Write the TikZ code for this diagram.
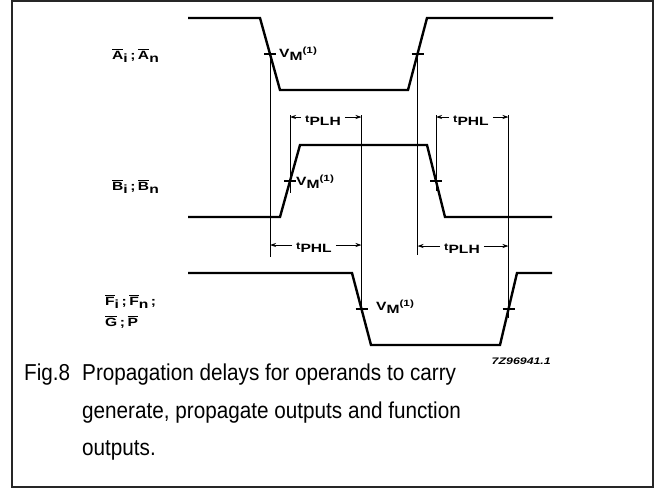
\documentclass[tikz,border=0pt]{standalone}
\usepackage{fontspec}
\setmainfont{Liberation Sans}
\newfontfamily\lblfont{Liberation Sans}[FakeStretch=1.3]
\newfontfamily\capfont{Liberation Sans}[FakeStretch=0.9]
\usetikzlibrary{arrows.meta}
\newcommand\ovl[1]{\ensuremath{\overline{\mbox{#1}}}}
\newcommand\lsub[1]{\raisebox{-3.2pt}{#1}}
\newcommand\sep{\hspace{2.5pt};\hspace{2.5pt}}
\newcommand\tdl[1]{{\fontsize{10}{11}\selectfont t}\lsub{#1}}
\newcommand\vmlab{V\lsub{M}\raisebox{3.8pt}{\fontsize{9}{10}\selectfont(1)}}
\begin{document}
\begin{tikzpicture}[x=1pt,y=-1pt,
  wave/.style={line width=2.4pt, line join=miter},
  refl/.style={line width=0.9pt},
  tickl/.style={line width=1.2pt},
  lab/.style={font=\lblfont\bfseries\fontsize{12}{13}\selectfont, inner sep=0pt},
  dimlab/.style={lab, inner xsep=4pt},
  dimar/.style={line width=0.9pt, -{Stealth[length=6pt,width=4pt]}},
  capt/.style={font=\capfont\fontsize{23}{28}\selectfont, anchor=base west, inner sep=0pt}]
\useasboundingbox (0,0) rectangle (657,488);
\draw[line width=2pt, draw=black!85] (12,1) rectangle (653,487);

% waveforms
\draw[wave] (188,18) -- (260,18) -- (280,90) -- (408,90) -- (427,18) -- (553,18);
\draw[wave] (188,217) -- (280,217) -- (300,145) -- (427,145) -- (445,217) -- (552,217);
\draw[wave] (188,273) -- (352,273) -- (371,345) -- (500,345) -- (517,273) -- (552,273);

% switching points
\coordinate (a1) at (270,54);
\coordinate (a2) at (417.5,54);
\coordinate (b1) at (290,181);
\coordinate (b2) at (436,181);
\coordinate (f1) at (361.5,309);
\coordinate (f2) at (508.5,309);
\foreach \p in {a1,a2,b1,b2,f1,f2}
  \draw[tickl] ([xshift=-6pt]\p) -- ([xshift=6pt]\p);

% reference lines ends
\coordinate (a1e) at (270,257);
\coordinate (a2e) at (417.5,255);
\coordinate (b1t) at (290,115);
\coordinate (b1e) at (290,193);
\coordinate (b2t) at (436,115);
\coordinate (b2e) at (436,191);
\coordinate (f1t) at (361.5,115);
\coordinate (f1e) at (361.5,313);
\coordinate (f2t) at (508.5,115);
\coordinate (f2e) at (508.5,318);
\draw[refl] (a1) -- (a1e);
\draw[refl] (a2) -- (a2e);
\draw[refl] (b1t) -- (b1e);
\draw[refl] (b2t) -- (b2e);
\draw[refl] (f1t) -- (f1e);
\draw[refl] (f2t) -- (f2e);

% arrow end points on reference lines
\coordinate (d1l) at (290,117);
\coordinate (d1r) at (361.5,117);
\coordinate (d2l) at (436,117);
\coordinate (d2r) at (508.5,117);
\coordinate (d3l) at (270,245);
\coordinate (d3r) at (361.5,245);
\coordinate (d4l) at (417.5,246);
\coordinate (d4r) at (508.5,246);

\node[dimlab] (tplha) at (323,121) {\tdl{PLH}};
\node[dimlab] (tphla) at (471,121) {\tdl{PHL}};
\node[dimlab] (tphlb) at (314,248) {\tdl{PHL}};
\node[dimlab] (tplhb) at (462,249) {\tdl{PLH}};
\draw[dimar] (tplha.west |- d1l) -- (d1l);
\draw[dimar] (tplha.east |- d1r) -- (d1r);
\draw[dimar] (tphla.west |- d2l) -- (d2l);
\draw[dimar] (tphla.east |- d2r) -- (d2r);
\draw[dimar] (tphlb.west |- d3l) -- (d3l);
\draw[dimar] (tphlb.east |- d3r) -- (d3r);
\draw[dimar] (tplhb.west |- d4l) -- (d4l);
\draw[dimar] (tplhb.east |- d4r) -- (d4r);

% signal names
\node[lab, anchor=base west] (la) at (112,59) {\ovl{A}\lsub{i}\sep\ovl{A}\lsub{n}};
\node[lab, anchor=base west] (lb) at (112,190) {\ovl{B}\lsub{i}\sep\ovl{B}\lsub{n}};
\node[lab, anchor=base west] (lf) at (105,305) {\ovl{F}\lsub{i}\sep\ovl{F}\lsub{n}\sep};
\node[lab, anchor=base west] (lg) at (105,326) {\ovl{G}\sep\ovl{P}};

% VM labels
\node[lab, anchor=base west] (va) at (279,57) {\vmlab};
\node[lab, anchor=base west] (vb) at (296,185) {\vmlab};
\node[lab, anchor=base west] (vf) at (376,310) {\vmlab};

\node[font=\lblfont\bfseries\itshape\fontsize{9.5}{10}\selectfont, anchor=base east, inner sep=0pt] (code) at (551,364) {7Z96941.1};

% caption
\node[capt] (fig) at (24,380) {Fig.8};
\node[capt] (cap1) at (82,380) {Propagation delays for operands to carry};
\node[capt] (cap2) at (82,418) {generate, propagate outputs and function};
\node[capt] (cap3) at (82,455) {outputs.};
\end{tikzpicture}
\end{document}
